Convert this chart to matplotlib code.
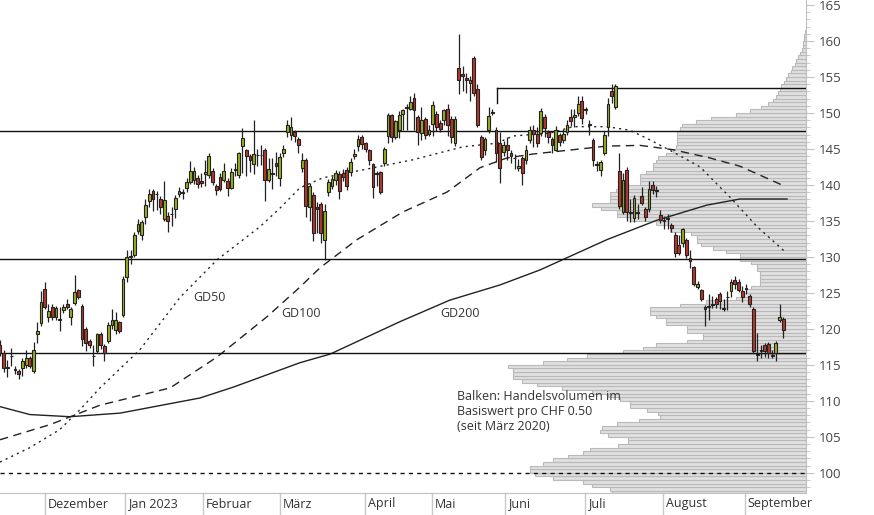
import matplotlib.pyplot as plt
import matplotlib.transforms as mtransforms
import numpy as np

# daily candles (one per trading day, Nov 2022 - Sep 2023)
opens = [117.8, 116.6, 114.6, 116.2, 114.3, 114.2, 114.6, 115.0, 116.0, 114.2,
         119.3, 120.8, 125.6, 121.7, 123.1, 121.7, 121.3, 122.6, 123.5, 121.7,
         123.6, 125.4, 123.2, 120.0, 118.3, 116.2, 116.9, 119.3, 117.6, 118.3,
         120.5, 119.8, 120.9, 121.9, 127.2, 130.0, 130.3, 133.6, 133.1, 135.6,
         137.8, 139.2, 138.7, 138.0, 135.3, 135.7, 135.9, 136.6, 138.7, 138.9,
         139.6, 140.4, 140.7, 141.0, 140.6, 141.5, 141.4, 141.9, 139.8, 141.1,
         140.7, 140.6, 139.6, 142.1, 141.4, 145.4, 144.8, 144.0, 142.9, 144.1,
         144.1, 144.9, 140.7, 141.5, 143.1, 140.9, 144.4, 147.4, 147.0, 147.3,
         146.4, 142.4, 143.5, 137.0, 138.6, 136.9, 137.3, 132.4, 139.0, 139.8,
         140.7, 141.5, 141.6, 142.1, 141.8, 144.0, 145.4, 146.7, 145.8, 144.9,
         142.9, 141.5, 141.8, 143.0, 146.8, 149.7, 146.6, 147.7, 149.8, 150.7,
         150.5, 152.1, 149.5, 147.2, 149.2, 147.1, 148.5, 149.8, 148.6, 149.0,
         150.5, 149.2, 145.9, 156.2, 155.4, 154.9, 154.2, 157.7, 153.3, 146.6,
         144.9, 147.6, 150.0, 147.6, 145.8, 144.6, 145.5, 144.5, 143.7, 142.4,
         143.7, 143.4, 146.2, 147.7, 147.1, 147.2, 149.4, 147.3, 146.4, 144.9,
         146.9, 146.3, 147.4, 149.4, 149.4, 150.0, 151.7, 150.4, 148.4, 146.3,
         142.8, 142.1, 144.5, 148.0, 153.0, 150.8, 142.0, 136.3, 142.1, 136.1,
         135.4, 136.1, 138.4, 136.6, 136.6, 140.0, 139.2, 135.8, 135.0, 135.3,
         134.5, 133.1, 131.6, 131.9, 132.4, 129.8, 128.6, 125.8, 125.4, 123.0,
         123.1, 123.3, 124.2, 124.9, 122.8, 124.4, 125.3, 126.8, 126.5, 125.3,
         125.6, 124.6, 122.8, 116.4, 116.9, 117.8, 117.9, 116.3, 116.7, 121.2,
         121.4]
closes = [116.6, 114.5, 114.6, 116.2, 114.3, 113.8, 115.6, 116.0, 114.9, 117.1,
          119.7, 123.8, 123.0, 122.5, 121.7, 122.9, 121.3, 123.0, 123.1, 122.7,
          125.1, 124.4, 118.6, 118.0, 117.8, 116.2, 119.3, 117.7, 116.7, 120.5,
          121.3, 121.3, 119.7, 127.0, 130.0, 130.0, 133.1, 134.6, 134.8, 137.2,
          138.8, 138.0, 138.7, 136.9, 137.9, 135.0, 135.9, 138.2, 139.2, 138.9,
          140.4, 141.9, 141.9, 140.1, 140.3, 141.8, 144.0, 140.4, 139.3, 139.5,
          142.0, 139.6, 141.8, 142.1, 144.4, 146.5, 144.0, 143.5, 144.3, 144.1,
          144.1, 140.7, 142.2, 141.5, 142.7, 143.9, 145.0, 148.3, 148.1, 146.8,
          145.5, 143.4, 137.1, 139.9, 133.3, 136.6, 133.3, 136.4, 140.4, 140.8,
          141.7, 139.1, 141.1, 139.9, 143.2, 144.3, 146.4, 145.7, 145.0, 143.5,
          139.7, 141.5, 139.0, 145.0, 149.7, 146.6, 148.9, 149.7, 150.4, 150.7,
          151.5, 150.4, 147.3, 149.0, 146.9, 147.7, 151.1, 148.1, 147.8, 150.4,
          148.3, 146.6, 149.2, 154.6, 155.1, 154.6, 154.6, 152.8, 148.4, 143.9,
          146.4, 149.6, 150.2, 144.4, 142.4, 145.5, 144.8, 144.0, 143.7, 142.7,
          141.7, 144.8, 147.7, 147.1, 145.9, 150.3, 147.9, 146.6, 145.5, 147.6,
          146.0, 147.1, 148.4, 148.9, 149.7, 151.3, 149.3, 150.4, 148.4, 143.5,
          142.8, 143.2, 146.9, 151.3, 152.3, 153.8, 137.1, 140.7, 136.3, 136.1,
          138.2, 136.1, 137.5, 135.6, 139.4, 139.3, 139.2, 135.2, 135.0, 135.3,
          134.0, 130.6, 130.6, 133.9, 130.3, 129.5, 126.3, 126.2, 124.2, 122.7,
          123.1, 123.3, 123.5, 123.9, 122.8, 124.4, 126.5, 126.3, 125.4, 124.4,
          125.6, 123.4, 116.9, 116.4, 116.9, 116.9, 116.7, 116.3, 118.1, 121.6,
          119.9]
highs = [118.5, 117.0, 115.7, 117.3, 114.9, 114.4, 116.0, 117.0, 116.3, 118.2,
         121.0, 125.2, 126.5, 123.5, 123.5, 123.2, 123.0, 123.5, 124.2, 123.0,
         127.5, 125.6, 123.4, 120.2, 118.6, 117.8, 119.5, 119.6, 117.9, 121.0,
         122.7, 122.3, 121.1, 127.3, 130.9, 131.0, 133.5, 135.3, 135.2, 138.0,
         139.5, 139.5, 139.1, 138.4, 140.6, 136.2, 137.0, 138.6, 139.7, 139.4,
         141.0, 143.3, 142.5, 141.4, 141.6, 143.5, 144.5, 142.4, 140.2, 141.6,
         143.0, 141.0, 142.3, 143.0, 144.6, 147.9, 145.0, 144.3, 149.0, 145.0,
         145.6, 145.2, 143.8, 143.8, 144.6, 144.5, 145.5, 149.0, 149.4, 147.7,
         146.6, 144.5, 143.8, 140.3, 139.0, 137.6, 137.6, 137.4, 140.8, 141.3,
         142.1, 141.9, 142.2, 142.5, 143.8, 145.0, 147.0, 147.0, 146.0, 145.0,
         143.0, 142.0, 142.0, 145.3, 150.0, 149.8, 149.0, 150.3, 150.6, 151.2,
         152.4, 152.8, 149.7, 150.9, 149.4, 148.3, 151.7, 150.3, 149.0, 150.6,
         151.2, 149.6, 149.6, 161.0, 156.5, 155.5, 155.1, 157.9, 154.0, 146.9,
         146.6, 150.9, 150.6, 148.0, 147.3, 146.1, 146.7, 144.8, 144.3, 143.6,
         144.0, 145.5, 148.2, 148.4, 148.0, 150.7, 149.8, 147.7, 146.7, 148.2,
         147.2, 147.8, 149.0, 150.5, 150.6, 152.4, 152.4, 150.9, 149.0, 146.5,
         143.3, 143.4, 147.5, 152.1, 154.0, 154.0, 144.5, 141.7, 142.5, 138.0,
         138.6, 137.4, 139.7, 137.0, 140.5, 140.5, 139.9, 136.5, 135.7, 135.9,
         134.7, 133.4, 133.0, 134.0, 132.6, 131.0, 128.8, 126.7, 125.6, 123.3,
         124.8, 124.6, 124.5, 125.1, 124.1, 125.2, 126.9, 127.3, 127.0, 126.0,
         126.2, 124.8, 123.0, 119.5, 117.7, 118.0, 118.2, 117.0, 118.3, 123.5,
         121.6]
lows = [116.2, 114.0, 113.3, 114.8, 113.8, 113.0, 113.5, 114.6, 114.6, 113.9,
        118.0, 120.4, 122.7, 121.0, 121.2, 121.3, 119.7, 122.2, 122.7, 120.6,
        123.3, 124.1, 117.6, 116.9, 117.4, 114.9, 116.6, 117.2, 115.6, 118.0,
        120.0, 119.3, 119.5, 121.7, 126.5, 129.0, 130.0, 133.2, 132.3, 134.6,
        137.0, 136.4, 136.5, 136.0, 135.0, 133.4, 134.3, 135.4, 138.3, 138.0,
        139.0, 140.2, 140.2, 139.6, 139.7, 139.8, 141.0, 140.0, 138.6, 139.2,
        140.4, 138.4, 139.4, 141.2, 141.0, 141.6, 141.2, 141.8, 141.5, 142.7,
        142.8, 137.8, 140.4, 139.5, 141.2, 139.8, 143.9, 146.6, 146.2, 146.0,
        144.5, 141.8, 135.5, 135.0, 132.2, 133.3, 132.0, 129.6, 138.4, 139.4,
        140.0, 138.0, 140.5, 139.3, 141.2, 143.6, 144.7, 145.0, 144.6, 142.8,
        138.2, 139.8, 138.8, 142.6, 145.8, 146.0, 146.4, 146.5, 147.6, 147.6,
        150.4, 147.6, 145.6, 146.3, 146.4, 146.8, 146.8, 147.5, 147.4, 148.3,
        146.8, 145.9, 145.4, 152.6, 153.0, 152.8, 151.7, 152.4, 148.0, 143.5,
        144.2, 147.2, 149.7, 143.2, 140.3, 144.0, 143.4, 143.0, 142.2, 142.0,
        140.0, 142.9, 145.8, 145.3, 145.3, 146.8, 146.6, 145.9, 144.4, 144.7,
        145.4, 145.8, 147.0, 148.2, 148.0, 149.6, 148.5, 149.8, 147.0, 142.6,
        141.9, 141.3, 144.1, 146.8, 151.4, 150.5, 136.6, 136.0, 135.0, 134.9,
        134.9, 135.3, 137.2, 135.0, 136.3, 138.7, 138.3, 134.7, 133.9, 133.9,
        133.4, 130.0, 130.2, 131.4, 129.9, 128.4, 126.0, 125.5, 123.9, 120.4,
        121.3, 122.9, 122.9, 122.8, 122.5, 122.6, 124.4, 125.6, 125.1, 123.8,
        124.9, 123.0, 116.6, 115.5, 116.0, 116.1, 115.9, 116.0, 115.6, 121.0,
        118.8]

# moving averages, sampled (trading-day index, value)
gd50_idx = [0, 8, 16, 21.4, 26.8, 37.5, 48.3, 58.2, 69.7, 75.1, 80.4, 86.6, 97.3,
            110.7, 124.1, 133.2, 137.5, 147.5, 153.6, 162.7, 168.9, 174.3, 180.4,
            187.7, 195.7, 203, 210.5]
gd50_val = [101.5, 103.5, 106.0, 108.75, 111.8, 117.1, 124.4, 129.6, 134.2, 136.8,
            139.6, 141.0, 142.1, 143.5, 145.3, 145.8, 146.8, 147.2, 148.1, 148.1,
            147.6, 146.25, 144.6, 142.5, 138.3, 134.2, 130.7]
gd100_idx = [0, 13.4, 26.8, 45.6, 58.2, 71.6, 80.4, 85.8, 95.7, 108, 119.8, 128.7,
             135.9, 142.9, 153.6, 162.7, 171.6, 180.4, 190, 198.4, 210.5]
gd100_val = [104.6, 106.7, 109.4, 111.8, 116.1, 121.7, 125.8, 128.5, 132.4, 136.25,
             139.0, 142.4, 143.75, 144.3, 144.9, 145.4, 145.5, 144.9, 143.8, 142.6,
             139.8]
gd200_idx = [0, 8, 18.8, 32.2, 53.6, 62.5, 80.4, 88.5, 107.2, 120.6, 134, 144.8,
             162.7, 176.1, 189.5, 198.4, 211]
gd200_val = [109.2, 108.1, 107.8, 108.3, 110.4, 111.9, 115.3, 116.5, 121.0, 124.0,
             126.1, 128.2, 132.4, 135.1, 137.2, 138.05, 138.05]

# volume profile per CHF 0.50 bin, starting at 97.0
vol_lo = 97.0
vol_profile = [194, 196, 214, 223, 253, 271, 276, 276, 263, 253,
               238, 223, 216, 188, 178, 178, 198, 206, 204, 189,
               167, 146, 148, 159, 176, 176, 186, 198, 214, 244,
               269, 284, 293, 293, 293, 298, 263, 239, 219, 183,
               163, 150, 119, 103, 103, 119, 119, 140, 140, 150,
               156, 156, 126, 100, 70, 65, 60, 55, 46, 46,
               46, 46, 49, 49, 55, 66, 66, 80, 93, 105,
               109, 109, 115, 136, 136, 150, 176, 189, 189, 205,
               214, 196, 196, 196, 190, 180, 166, 166, 166, 160,
               153, 153, 150, 148, 140, 133, 130, 129, 129, 129,
               129, 126, 124, 110, 95, 70, 56, 45, 38, 33,
               30, 28, 26, 25, 22, 20, 18, 15, 14, 11,
               10, 8, 6, 4, 3, 3, 2, 2, 1]

levels = [147.5, 129.7, 116.6]
resist = 153.5
resist_start = 133.2
months = ["Dezember", "Jan 2023", "Februar", "März", "April", "Mai", "Juni",
          "Juli", "August", "September"]
month_idx = [12.1, 33.5, 54.4, 75.1, 97.9, 115.8, 135.4, 156.8, 177.7, 199.7]

plt.rcParams["font.family"] = ["Open Sans", "DejaVu Sans"]
fig = plt.figure(figsize=(8.74, 5.15), dpi=100)
ax = fig.add_axes([0, 22 / 515, 806 / 874, 1 - 22 / 515])
ax2 = ax.twiny()
ax.set_zorder(2)
ax.patch.set_visible(False)
ax2.set_zorder(1)

# volume profile
edges = vol_lo + 0.5 * np.arange(len(vol_profile))
ax2.barh(edges + 0.25, vol_profile, height=0.5, left=0, color="#e0e0e0",
         edgecolor="#b9b9b9", linewidth=0.8)
ax2.set_xlim(806, 0)
ax2.axis("off")

o = np.array(opens); c = np.array(closes)
h = np.array(highs); l = np.array(lows)
x = np.arange(len(o))
ax.vlines(x, l, h, color="#222222", linewidth=0.9, zorder=3)
cols = np.where(c > o, "#9aae1c", np.where(c < o, "#b8372a", "#333333"))
bottom = np.minimum(o, c)
height = np.maximum(np.abs(c - o), 0.1)
ax.bar(x, height, bottom=bottom, width=0.75, color=cols, edgecolor="#222222",
       linewidth=0.8, zorder=4)

ax.plot(gd50_idx, gd50_val, color="#222222", linestyle=(0, (1.5, 3)), linewidth=1)
ax.plot(gd100_idx, gd100_val, color="#222222", linestyle=(0, (6, 4)), linewidth=1)
ax.plot(gd200_idx, gd200_val, color="#222222", linewidth=1)

for lv in levels:
    ax.axhline(lv, color="#111111", linewidth=1)
ax.plot([resist_start, 216.5], [resist, resist], color="#111111", linewidth=1)
ax.plot([resist_start, resist_start], [resist, 151.4], color="#111111", linewidth=1)
ax.axhline(100, color="#111111", linewidth=1, linestyle=(0, (3, 3)))

tc = "#333333"
ax.text(51.7, 124.3, "GD50", fontsize=9, color=tc, ha="left", va="center")
ax.text(75.3, 122.2, "GD100", fontsize=9, color=tc, ha="left", va="center")
ax.text(118, 122.2, "GD200", fontsize=9, color=tc, ha="left", va="center")
ax.text(122.5, 111.5, "Balken: Handelsvolumen im\nBasiswert pro CHF 0.50\n(seit März 2020)",
        fontsize=9, color=tc, ha="left", va="top", linespacing=1.2)

ax.set_xlim(0, 806 / 3.73)
ax.set_ylim(97.2, 165.7)
ax.yaxis.tick_right()
ax.set_yticks(np.arange(100, 166, 5))
ax.set_yticks(np.arange(98, 166, 1), minor=True)
ax.tick_params(axis="y", which="major", length=6, color="#c0c0c0", labelsize=9.5,
               labelcolor="#444444", pad=3)
ax.tick_params(axis="y", which="minor", length=3, color="#c0c0c0")
ax.set_xticks([])
for s in ["top", "left"]:
    ax.spines[s].set_visible(False)
ax.spines["right"].set_color("#c0c0c0")
ax.spines["bottom"].set_color("#c0c0c0")

trans = mtransforms.blended_transform_factory(ax.transData, ax.transAxes)
for mi, name in zip(month_idx, months):
    ax.plot([mi, mi], [0, -22 / 493], color="#c8c8c8", linewidth=1,
            transform=trans, clip_on=False)
    ax.text(mi + 0.8, -11 / 493, name, transform=trans, fontsize=9, color="#333333",
            ha="left", va="center")

fig.savefig("out.png", dpi=100)
